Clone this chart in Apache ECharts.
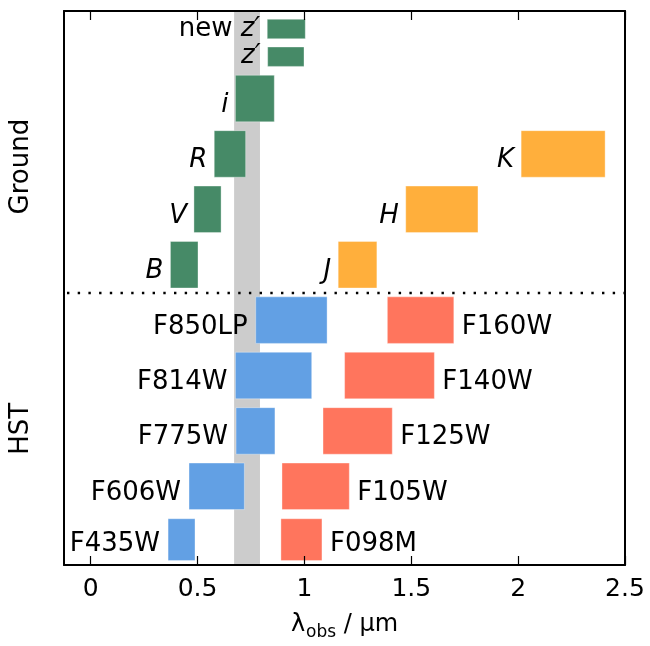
<!DOCTYPE html>
<html>
<head>
<meta charset="utf-8">
<script src="https://cdn.jsdelivr.net/npm/echarts@6/dist/echarts.min.js"></script>
<style>html,body{margin:0;padding:0;background:#fff}#c{width:650px;height:646px}</style>
</head>
<body>
<div id="c"></div>
<script>
// ---- data (x in micron, y in row units) ----
var xTicks = [0, 0.5, 1, 1.5, 2, 2.5];
var xMin = -0.125, xMax = 2.5, yMin = 0, yMax = 10;

var groundOptNames = ['B', 'V', 'R', 'i', 'z′', 'new z′'];
var groundOptLo    = [0.373, 0.483, 0.578, 0.677, 0.828, 0.826];
var groundOptHi    = [0.502, 0.610, 0.725, 0.859, 0.998, 1.004];
var groundOptBot   = [5.0, 6.0, 7.0, 8.0, 9.0, 9.5];
var groundOptTop   = [5.84, 6.84, 7.84, 8.84, 9.35, 9.85];

var groundNirNames = ['J', 'H', 'K'];
var groundNirLo    = [1.158, 1.474, 2.014];
var groundNirHi    = [1.339, 1.812, 2.407];
var groundNirBot   = [5.0, 6.0, 7.0];
var groundNirTop   = [5.84, 6.84, 7.84];

var acsNames = ['F435W', 'F606W', 'F775W', 'F814W', 'F850LP'];
var acsLo    = [0.362, 0.460, 0.680, 0.677, 0.772];
var acsHi    = [0.488, 0.719, 0.862, 1.034, 1.106];
var acsBot   = [0.08, 1.0, 2.0, 3.0, 4.0];
var acsTop   = [0.835, 1.84, 2.84, 3.84, 4.84];

var wfcNames = ['F098M', 'F105W', 'F125W', 'F140W', 'F160W'];
var wfcLo    = [0.890, 0.895, 1.087, 1.188, 1.388];
var wfcHi    = [1.082, 1.210, 1.411, 1.608, 1.699];
var wfcBot   = [0.08, 1.0, 2.0, 3.0, 4.0];
var wfcTop   = [0.835, 1.84, 2.84, 3.84, 4.84];

var bandLo = 0.671, bandHi = 0.792;
var dividerY = 4.91;
var groupNames = ['HST', 'Ground'];
var groupY = [2.46, 7.19];

// ---- styling ----
var FONT = '"DejaVu Sans", sans-serif';
var colGreen = '#468a67', colOrange = '#ffaf3c', colBlue = '#62a0e4', colRed = '#ff755d';

function rows(lo, hi, bot, top) {
  return lo.map(function (v, i) { return [lo[i], hi[i], bot[i], top[i]]; });
}

function labelText(name, italic) {
  if (name.indexOf('new ') === 0) {
    return { text: '{r|new }{i|' + name.slice(4) + '}',
             rich: { r: { fontStyle: 'normal', fontSize: 26, fontFamily: FONT },
                     i: { fontStyle: 'italic', fontSize: 26, fontFamily: FONT } } };
  }
  return { text: name, fontStyle: italic ? 'italic' : 'normal' };
}

function makeSeries(data, names, color, side, italic) {
  return {
    type: 'custom',
    xAxisIndex: 0, yAxisIndex: 0,
    z: 5,
    encode: { x: [0, 1], y: [2, 3] },
    data: data,
    renderItem: function (params, api) {
      var lo = api.value(0), hi = api.value(1), b = api.value(2), t = api.value(3);
      var p1 = api.coord([lo, t]), p2 = api.coord([hi, b]);
      var ly = api.coord([lo, b + Math.min(0.3, (t - b) / 2)])[1];
      var name = names[params.dataIndex];
      var lt = labelText(name, italic);
      var st = {
        text: lt.text, rich: lt.rich,
        fontSize: 26, fontFamily: FONT, fontStyle: lt.fontStyle || 'normal',
        fill: '#000', verticalAlign: 'middle',
        x: side === 'left' ? p1[0] - (italic ? 7 : 8) : p2[0] + 8,
        y: ly,
        align: side === 'left' ? 'right' : 'left'
      };
      return {
        type: 'group',
        children: [
          { type: 'rect', shape: { x: p1[0], y: p1[1], width: p2[0] - p1[0], height: p2[1] - p1[1] },
            style: { fill: color, stroke: 'rgba(255,255,255,0.35)', lineWidth: 1 } },
          { type: 'text', style: st }
        ]
      };
    }
  };
}

var chart = echarts.init(document.getElementById('c'), null, { renderer: 'canvas' });

var axisLineStyle = { color: '#000', width: 2 };
var option = {
  animation: false,
  backgroundColor: '#fff',
  grid: { left: 64, right: 25, top: 11, bottom: 75, containLabel: false },
  xAxis: [
    {
      type: 'value', position: 'bottom', min: xMin, max: xMax, z: 10,
      axisLine: { show: true, onZero: false, lineStyle: axisLineStyle },
      axisTick: { show: true, inside: true, length: 9, customValues: xTicks, lineStyle: { color: '#000', width: 1.2 } },
      axisLabel: { show: true, customValues: xTicks, margin: 12, color: '#000', fontSize: 25, fontFamily: FONT },
      splitLine: { show: false },
      name: '{l|λ}{s|obs}{n| / μm}',
      nameLocation: 'middle', nameGap: 48,
      nameTextStyle: {
        color: '#000', fontFamily: FONT, fontSize: 24,
        rich: {
          l: { fontSize: 24, fontFamily: FONT, color: '#000' },
          s: { fontSize: 17, fontFamily: FONT, color: '#000', verticalAlign: 'bottom', padding: [0, 0, -4, 1] },
          n: { fontSize: 24, fontFamily: FONT, color: '#000' }
        }
      }
    },
    {
      type: 'value', position: 'top', min: xMin, max: xMax, z: 10,
      axisLine: { show: true, onZero: false, lineStyle: axisLineStyle },
      axisTick: { show: true, inside: true, length: 9, customValues: xTicks, lineStyle: { color: '#000', width: 1.2 } },
      axisLabel: { show: false },
      splitLine: { show: false }
    }
  ],
  yAxis: [
    {
      type: 'value', position: 'left', min: yMin, max: yMax, z: 10,
      axisLine: { show: true, onZero: false, lineStyle: axisLineStyle },
      axisTick: { show: false }, axisLabel: { show: false }, splitLine: { show: false }
    },
    {
      type: 'value', position: 'right', min: yMin, max: yMax, z: 10,
      axisLine: { show: true, onZero: false, lineStyle: axisLineStyle },
      axisTick: { show: false }, axisLabel: { show: false }, splitLine: { show: false }
    }
  ],
  series: [
    // grey band
    {
      type: 'custom', z: 1, xAxisIndex: 0, yAxisIndex: 0,
      data: [[bandLo, bandHi, yMin, yMax]],
      renderItem: function (params, api) {
        var p1 = api.coord([api.value(0), api.value(3)]);
        var p2 = api.coord([api.value(1), api.value(2)]);
        return { type: 'rect', shape: { x: p1[0], y: p1[1], width: p2[0] - p1[0], height: p2[1] - p1[1] },
                 style: { fill: '#cccccc' } };
      }
    },
    // divider
    {
      type: 'line', z: 3, xAxisIndex: 0, yAxisIndex: 0,
      data: [[xMin, dividerY], [xMax, dividerY]],
      symbol: 'none', silent: true,
      lineStyle: { color: '#000', width: 2.4, type: [2.4, 8.3], dashOffset: -3 }
    },
    makeSeries(rows(groundOptLo, groundOptHi, groundOptBot, groundOptTop), groundOptNames, colGreen, 'left', true),
    makeSeries(rows(groundNirLo, groundNirHi, groundNirBot, groundNirTop), groundNirNames, colOrange, 'left', true),
    makeSeries(rows(acsLo, acsHi, acsBot, acsTop), acsNames, colBlue, 'left', false),
    makeSeries(rows(wfcLo, wfcHi, wfcBot, wfcTop), wfcNames, colRed, 'right', false),
    // group labels
    {
      type: 'custom', z: 5, xAxisIndex: 0, yAxisIndex: 0,
      data: groupY.map(function (y) { return [xMin, y]; }),
      renderItem: function (params, api) {
        var p = api.coord([api.value(0), api.value(1)]);
        return { type: 'text', x: p[0] - 43, y: p[1], rotation: Math.PI / 2,
                 style: { text: groupNames[params.dataIndex], fontSize: 26, fontFamily: FONT, fill: '#000',
                          align: 'center', verticalAlign: 'middle' } };
      }
    }
  ]
};
chart.setOption(option);
</script>
</body>
</html>
